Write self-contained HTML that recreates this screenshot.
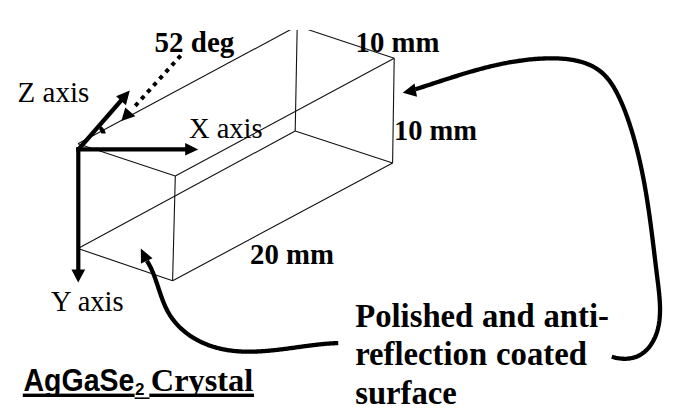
<!DOCTYPE html>
<html><head><meta charset="utf-8"><style>
html,body{margin:0;padding:0;background:#fff;}
body{width:700px;height:417px;overflow:hidden;position:relative;font-family:"Liberation Serif",serif;}
svg{position:absolute;left:0;top:0;}
</style></head><body>
<svg width="700" height="417" viewBox="0 0 700 417">
<defs><clipPath id="cl" clipPathUnits="userSpaceOnUse"><rect x="-100" y="-100" width="800" height="106"/></clipPath><clipPath id="cl2" clipPathUnits="userSpaceOnUse"><rect x="-100" y="-100" width="800" height="106"/></clipPath></defs>
<rect width="700" height="417" fill="#fff"/>
<g stroke="#111" stroke-width="1.1" fill="none">
<line x1="78.0" y1="143.7" x2="175.3" y2="175.9"/>
<line x1="175.3" y1="175.9" x2="172.6" y2="280.8"/>
<line x1="172.6" y1="280.8" x2="78.0" y2="248.5"/>
<line x1="78.0" y1="143.7" x2="297.2" y2="26.1"/>
<line x1="297.2" y1="26.1" x2="394.2" y2="58.2"/>
<line x1="394.2" y1="58.2" x2="392.6" y2="163.0"/>
<line x1="392.6" y1="163.0" x2="172.6" y2="280.8"/>
<line x1="175.3" y1="175.9" x2="394.2" y2="58.2"/>
<line x1="297.2" y1="26.1" x2="295.2" y2="131.0"/>
<line x1="295.2" y1="131.0" x2="392.6" y2="163.0"/>
<line x1="295.2" y1="131.0" x2="78.0" y2="248.5"/>
</g>
<rect x="0" y="0" width="700" height="30" fill="#fff"/>
<g stroke="#000" stroke-width="4.2" fill="none" stroke-linecap="butt">
<line x1="78.3" y1="147.4" x2="78.3" y2="271"/>
<line x1="76.2" y1="149.4" x2="187" y2="149.4"/>
<line x1="78.8" y1="149" x2="122" y2="99.5"/>
</g>
<line x1="180.7" y1="55.6" x2="135.2" y2="105.9" stroke="#000" stroke-width="4" stroke-dasharray="4.2 4.88"/>
<path d="M100.6,125.8 Q104.6,128.2 105.8,133.6 L101.3,133.6 Q100.6,131 99.2,129.6 Z" fill="#000"/>
<path d="M415.35,89.31 L417.03,88.77 L418.70,88.23 L420.37,87.69 L422.05,87.15 L423.72,86.60 L425.38,86.06 L427.05,85.52 L428.72,84.97 L430.39,84.43 L432.05,83.88 L433.72,83.33 L435.38,82.79 L437.04,82.25 L438.71,81.70 L440.37,81.16 L442.03,80.62 L443.69,80.08 L445.36,79.54 L447.02,79.00 L448.68,78.47 L450.34,77.94 L452.00,77.41 L453.67,76.88 L455.33,76.36 L456.99,75.84 L458.65,75.32 L460.32,74.81 L461.98,74.30 L463.65,73.79 L465.31,73.29 L466.98,72.79 L468.65,72.30 L470.32,71.81 L471.99,71.33 L473.66,70.85 L475.33,70.38 L477.00,69.92 L478.68,69.46 L480.35,69.00 L482.03,68.56 L483.71,68.12 L485.39,67.68 L487.07,67.25 L488.75,66.83 L490.44,66.42 L492.13,66.02 L493.82,65.62 L495.51,65.23 L497.20,64.85 L498.90,64.48 L500.60,64.12 L502.30,63.76 L504.00,63.42 L505.70,63.08 L507.41,62.75 L509.12,62.44 L510.84,62.13 L512.55,61.83 L514.27,61.55 L515.99,61.27 L517.72,61.01 L519.45,60.75 L521.18,60.51 L522.91,60.28 L524.65,60.06 L526.39,59.86 L528.14,59.66 L529.89,59.48 L531.64,59.31 L533.39,59.15 L535.15,59.01 L536.92,58.88 L538.68,58.76 L540.45,58.65 L542.23,58.56 L544.01,58.49 L545.79,58.42 L547.58,58.38 L549.37,58.35 L551.16,58.33 L552.95,58.34 L554.75,58.36 L556.54,58.40 L558.32,58.47 L560.11,58.55 L561.88,58.66 L563.66,58.80 L565.42,58.96 L567.18,59.15 L568.92,59.36 L570.66,59.61 L572.39,59.88 L574.10,60.19 L575.80,60.53 L577.48,60.90 L579.15,61.30 L580.80,61.74 L582.43,62.22 L584.04,62.74 L585.63,63.29 L587.21,63.89 L588.75,64.52 L590.28,65.20 L591.78,65.92 L593.25,66.68 L594.70,67.49 L596.12,68.35 L597.51,69.25 L598.86,70.20 L600.19,71.21 L601.49,72.26 L602.75,73.36 L603.97,74.52 L605.17,75.73 L606.32,76.99 L607.45,78.30 L608.54,79.65 L609.60,81.04 L610.63,82.47 L611.63,83.93 L612.60,85.42 L613.55,86.95 L614.46,88.49 L615.36,90.06 L616.23,91.65 L617.07,93.26 L617.89,94.87 L618.70,96.50 L619.48,98.14 L620.24,99.78 L620.98,101.42 L621.71,103.07 L622.41,104.72 L623.10,106.37 L623.78,108.03 L624.44,109.68 L625.08,111.34 L625.71,113.01 L626.33,114.67 L626.93,116.34 L627.52,118.01 L628.10,119.68 L628.67,121.35 L629.23,123.02 L629.78,124.69 L630.32,126.36 L630.85,128.03 L631.37,129.70 L631.89,131.37 L632.40,133.05 L632.90,134.72 L633.39,136.39 L633.87,138.07 L634.35,139.74 L634.81,141.42 L635.27,143.09 L635.73,144.77 L636.17,146.44 L636.61,148.12 L637.04,149.80 L637.46,151.48 L637.88,153.16 L638.29,154.84 L638.69,156.52 L639.09,158.20 L639.48,159.88 L639.87,161.56 L640.24,163.24 L640.62,164.93 L640.98,166.61 L641.34,168.30 L641.70,169.98 L642.04,171.67 L642.39,173.36 L642.73,175.05 L643.06,176.74 L643.39,178.43 L643.71,180.12 L644.02,181.81 L644.34,183.51 L644.64,185.20 L644.95,186.90 L645.25,188.59 L645.54,190.29 L645.83,191.99 L646.12,193.69 L646.40,195.39 L646.68,197.10 L646.95,198.80 L647.22,200.51 L647.49,202.21 L647.75,203.92 L648.01,205.63 L648.27,207.34 L648.52,209.05 L648.77,210.77 L649.02,212.48 L649.27,214.20 L649.51,215.92 L649.75,217.64 L649.99,219.36 L650.22,221.08 L650.45,222.80 L650.69,224.53 L650.91,226.26 L651.14,227.99 L651.37,229.72 L651.59,231.45 L651.81,233.18 L652.03,234.92 L652.25,236.65 L652.47,238.39 L652.69,240.13 L652.90,241.88 L653.12,243.62 L653.34,245.37 L653.55,247.12 L653.76,248.87 L653.98,250.62 L654.19,252.37 L654.40,254.13 L654.62,255.89 L654.83,257.65 L655.04,259.41 L655.26,261.17 L655.47,262.94 L655.68,264.71 L655.90,266.48 L656.12,268.25 L656.33,270.02 L656.55,271.80 L656.77,273.58 L656.99,275.36 L657.21,277.14 L657.43,278.93 L657.66,280.72 L657.88,282.51 L658.10,284.30 L658.32,286.09 L658.52,287.88 L658.73,289.67 L658.92,291.45 L659.10,293.24 L659.27,295.02 L659.43,296.80 L659.57,298.58 L659.70,300.35 L659.81,302.11 L659.90,303.87 L659.96,305.63 L660.01,307.38 L660.03,309.12 L660.02,310.85 L659.98,312.58 L659.92,314.29 L659.83,316.00 L659.70,317.69 L659.54,319.38 L659.35,321.05 L659.11,322.72 L658.84,324.37 L658.53,326.01 L658.18,327.63 L657.79,329.24 L657.35,330.84 L656.86,332.42 L656.33,333.98 L655.75,335.53 L655.11,337.06 L654.43,338.57 L653.69,340.07 L652.90,341.54 L652.05,342.97 L651.15,344.38 L650.20,345.74 L649.19,347.06 L648.12,348.34 L647.00,349.56 L645.82,350.72 L644.59,351.82 L643.29,352.85 L641.94,353.82 L640.54,354.70 L639.07,355.51 L637.55,356.23 L635.96,356.87 L634.33,357.41 L632.64,357.87 L630.91,358.24 L629.13,358.51 L627.32,358.69 L625.46,358.78 L623.58,358.77 L621.67,358.67 L619.73,358.47 L617.76,358.18 L615.79,357.78 L613.79,357.29 L611.79,356.69" stroke="#000" stroke-width="4.3" fill="none"/>
<path d="M146.95,260.95 L147.35,261.57 L147.75,262.20 L148.14,262.84 L148.52,263.48 L148.89,264.14 L149.26,264.80 L149.62,265.47 L149.98,266.15 L150.33,266.83 L150.67,267.52 L151.00,268.22 L151.33,268.92 L151.66,269.64 L151.98,270.35 L152.29,271.08 L152.60,271.80 L152.91,272.54 L153.21,273.28 L153.51,274.02 L153.80,274.77 L154.09,275.53 L154.37,276.28 L154.66,277.05 L154.94,277.81 L155.22,278.58 L155.49,279.36 L155.76,280.13 L156.04,280.91 L156.31,281.69 L156.57,282.48 L156.84,283.26 L157.11,284.05 L157.37,284.84 L157.64,285.64 L157.90,286.43 L158.17,287.22 L158.43,288.02 L158.70,288.82 L158.96,289.61 L159.23,290.41 L159.50,291.21 L159.76,292.00 L160.03,292.80 L160.31,293.59 L160.58,294.39 L160.86,295.18 L161.14,295.98 L161.42,296.77 L161.70,297.55 L161.99,298.34 L162.28,299.13 L162.58,299.91 L162.88,300.69 L163.18,301.46 L163.49,302.24 L163.80,303.01 L164.12,303.77 L164.44,304.53 L164.77,305.29 L165.10,306.04 L165.44,306.79 L165.79,307.54 L166.14,308.28 L166.50,309.01 L166.86,309.74 L167.23,310.46 L167.61,311.18 L168.00,311.89 L168.39,312.59 L168.79,313.29 L169.20,313.98 L169.62,314.67 L170.04,315.35 L170.48,316.02 L170.92,316.68 L171.36,317.34 L171.82,317.99 L172.28,318.64 L172.75,319.28 L173.22,319.91 L173.70,320.54 L174.19,321.16 L174.69,321.77 L175.19,322.38 L175.70,322.98 L176.22,323.57 L176.74,324.16 L177.27,324.74 L177.80,325.32 L178.34,325.88 L178.89,326.45 L179.45,327.00 L180.00,327.55 L180.57,328.09 L181.14,328.63 L181.72,329.16 L182.30,329.68 L182.89,330.20 L183.48,330.71 L184.08,331.21 L184.69,331.71 L185.30,332.20 L185.91,332.69 L186.53,333.17 L187.16,333.64 L187.79,334.11 L188.43,334.57 L189.07,335.02 L189.71,335.47 L190.36,335.91 L191.01,336.34 L191.67,336.77 L192.34,337.19 L193.00,337.61 L193.68,338.02 L194.35,338.42 L195.03,338.82 L195.72,339.21 L196.40,339.59 L197.10,339.97 L197.79,340.34 L198.49,340.71 L199.20,341.07 L199.90,341.42 L200.61,341.77 L201.33,342.11 L202.04,342.44 L202.76,342.77 L203.49,343.09 L204.21,343.40 L204.94,343.71 L205.68,344.02 L206.41,344.31 L207.15,344.61 L207.89,344.89 L208.64,345.17 L209.38,345.44 L210.13,345.71 L210.88,345.97 L211.63,346.22 L212.39,346.47 L213.15,346.71 L213.91,346.94 L214.67,347.17 L215.43,347.40 L216.20,347.61 L216.97,347.82 L217.74,348.03 L218.51,348.23 L219.28,348.42 L220.05,348.61 L220.83,348.79 L221.61,348.96 L222.38,349.13 L223.16,349.29 L223.94,349.45 L224.72,349.60 L225.51,349.74 L226.29,349.88 L227.08,350.01 L227.86,350.14 L228.65,350.26 L229.44,350.38 L230.23,350.49 L231.02,350.59 L231.81,350.69 L232.60,350.79 L233.39,350.88 L234.19,350.96 L234.98,351.04 L235.78,351.12 L236.57,351.19 L237.37,351.25 L238.17,351.31 L238.97,351.37 L239.77,351.42 L240.57,351.46 L241.37,351.51 L242.17,351.54 L242.97,351.58 L243.78,351.60 L244.58,351.63 L245.39,351.65 L246.19,351.66 L247.00,351.68 L247.81,351.68 L248.61,351.69 L249.42,351.69 L250.23,351.68 L251.04,351.68 L251.85,351.66 L252.66,351.65 L253.47,351.63 L254.28,351.61 L255.09,351.58 L255.90,351.56 L256.72,351.52 L257.53,351.49 L258.34,351.45 L259.15,351.41 L259.97,351.37 L260.78,351.32 L261.60,351.27 L262.41,351.22 L263.23,351.16 L264.04,351.10 L264.86,351.04 L265.67,350.98 L266.49,350.91 L267.30,350.84 L268.12,350.77 L268.94,350.70 L269.75,350.63 L270.57,350.55 L271.39,350.47 L272.20,350.39 L273.02,350.31 L273.83,350.22 L274.65,350.13 L275.47,350.04 L276.28,349.95 L277.10,349.86 L277.92,349.77 L278.73,349.67 L279.55,349.58 L280.36,349.48 L281.18,349.38 L282.00,349.28 L282.81,349.18 L283.63,349.08 L284.44,348.97 L285.26,348.87 L286.07,348.76 L286.88,348.66 L287.70,348.55 L288.51,348.44 L289.32,348.33 L290.14,348.22 L290.95,348.11 L291.76,348.00 L292.57,347.89 L293.38,347.78 L294.19,347.67 L295.00,347.56 L295.81,347.45 L296.62,347.34 L297.43,347.23 L298.24,347.12 L299.05,347.00 L299.85,346.89 L300.66,346.78 L301.46,346.67 L302.27,346.56 L303.07,346.45 L303.88,346.35 L304.68,346.24 L305.48,346.13 L306.28,346.02 L307.08,345.92 L307.88,345.81 L308.68,345.71 L309.48,345.61 L310.28,345.50 L311.07,345.40 L311.87,345.30 L312.66,345.21 L313.46,345.11 L314.25,345.01 L315.04,344.92 L315.83,344.83 L316.62,344.74 L317.41,344.65 L318.20,344.56 L318.99,344.47 L319.77,344.39 L320.56,344.31 L321.34,344.23 L322.12,344.15 L322.90,344.07 L323.68,344.00 L324.46,343.93 L325.24,343.86 L326.02,343.79 L326.79,343.73 L327.56,343.67 L328.34,343.61 L329.11,343.55 L329.88,343.50 L330.65,343.45 L331.41,343.40 L332.18,343.36 L332.95,343.31 L333.71,343.27 L334.47,343.24 L335.23,343.21 L335.99,343.18 L336.75,343.15 L337.50,343.13 L338.26,343.11" stroke="#000" stroke-width="4.3" fill="none"/>
<polygon points="129.8,90.6 116.1,96.2 125.9,105.2" fill="#000"/>
<polygon points="198.2,149.5 185.2,143.0 185.2,155.6" fill="#000"/>
<polygon points="78.2,282.5 71.4,269.6 85.2,269.6" fill="#000"/>
<polygon points="121.3,121.0 125.3,107.5 135.4,116.2" fill="#000"/>
<polygon points="402.7,92.7 414.5,83.4 417.0,96.7" fill="#000"/>
<polygon points="140.8,248.6 141.0,263.4 152.5,258.2" fill="#000"/>
<g fill="#000">
<text x="0.0" y="0.0" font-family="'Liberation Serif', serif" font-size="29.0" font-weight="bold" transform="translate(154.60,51.50) scale(1.000,1.035)" >52 deg</text>
<text x="0.0" y="0.0" font-family="'Liberation Serif', serif" font-size="28.5" font-weight="bold" transform="translate(355.50,52.20) scale(1.010,1.035)" >10 mm</text>
<text x="0.0" y="0.0" font-family="'Liberation Serif', serif" font-size="28.5" font-weight="bold" transform="translate(394.00,140.30) scale(1.000,1.040)" >10 mm</text>
<text x="0.0" y="0.0" font-family="'Liberation Serif', serif" font-size="28.5" font-weight="bold" transform="translate(250.00,263.80) scale(1.010,1.040)" >20 mm</text>
<text x="0.0" y="0.0" font-family="'Liberation Serif', serif" font-size="29.0" font-weight="normal" transform="translate(17.60,101.70) scale(1.000,1.020)" >Z axis</text>
<text x="0.0" y="0.0" font-family="'Liberation Serif', serif" font-size="28.5" font-weight="normal" transform="translate(189.00,137.60) scale(1.000,1.010)" >X axis</text>
<text x="0.0" y="0.0" font-family="'Liberation Serif', serif" font-size="28.5" font-weight="normal" transform="translate(51.00,310.90) scale(1.000,1.000)" >Y axis</text>
<text x="355.2" y="327.3" font-family="'Liberation Serif', serif" font-size="32.7" font-weight="bold" word-spacing="0.6">Polished and anti-</text>
<text x="355.2" y="365.0" font-family="'Liberation Serif', serif" font-size="32.7" font-weight="bold" word-spacing="0.8">reflection coated</text>
<text x="355.2" y="404.0" font-family="'Liberation Serif', serif" font-size="32.7" font-weight="bold" >surface</text>
<text x="23.5" y="0.0" font-family="'Liberation Sans', sans-serif" font-size="28.5" font-weight="bold" transform="translate(0,390.6) scale(1,1.075)" clip-path="url(#cl)">AgGaSe</text>
<text x="135.0" y="394.8" font-family="'Liberation Sans', sans-serif" font-size="17.0" font-weight="bold" >2</text>
<text x="0.0" y="0.0" font-family="'Liberation Serif', serif" font-size="31.0" font-weight="bold" transform="translate(150.8,390.6) scale(1.045,1)" clip-path="url(#cl2)">Crystal</text>
</g>
<rect x="22.8" y="393.6" width="111.8" height="3.4" fill="#000"/>
<rect x="134.6" y="397.4" width="15" height="1.6" fill="#000"/>
<rect x="149.3" y="393.6" width="104.7" height="3.4" fill="#000"/>
</svg>
</body></html>
